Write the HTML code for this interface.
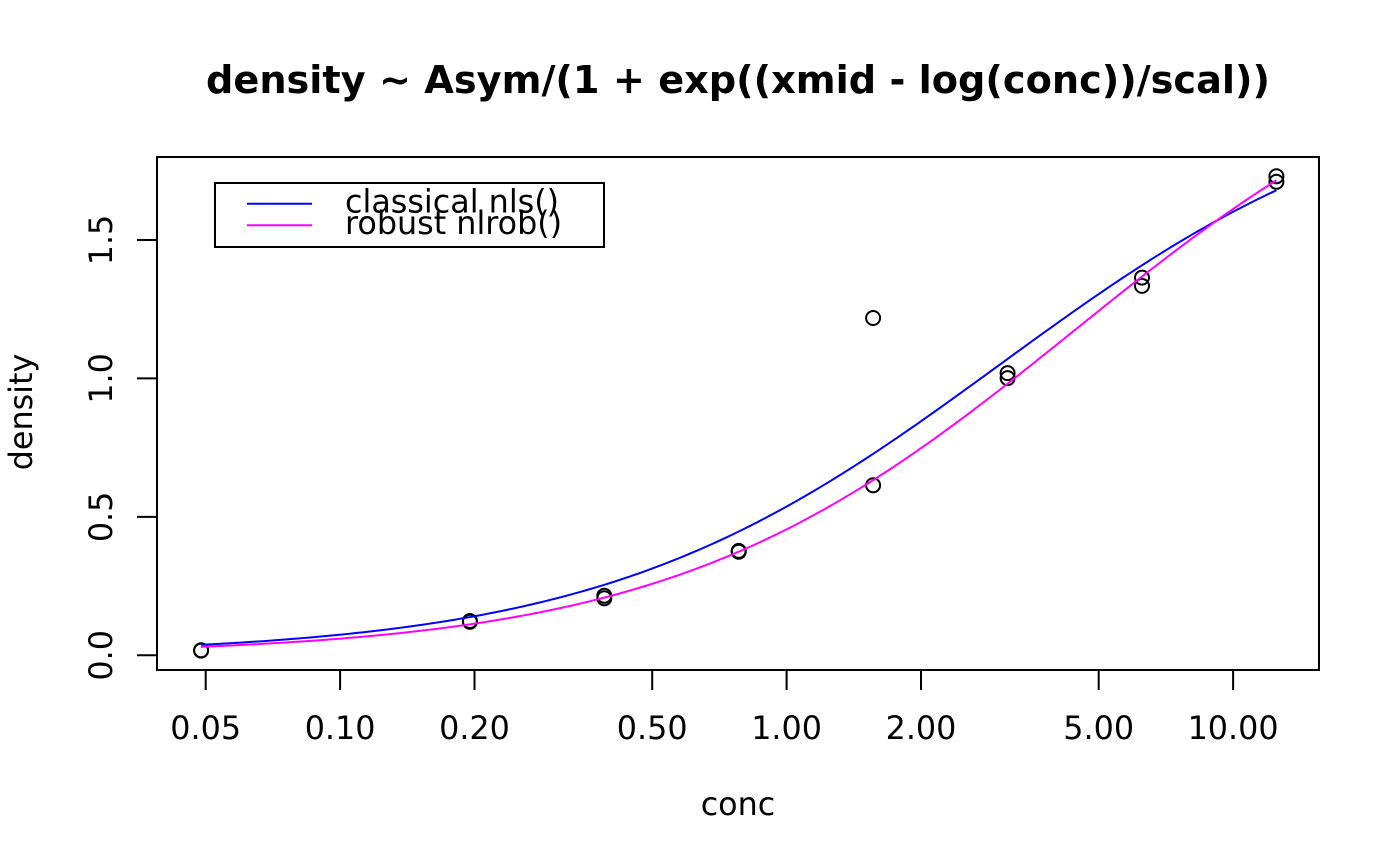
<!DOCTYPE html>
<html>
<head>
<meta charset="utf-8">
<style>
html,body{margin:0;padding:0;background:#fff;}
svg{display:block;}
text{font-family:"DejaVu Sans","Liberation Sans",sans-serif;fill:#000;}
</style>
</head>
<body>
<svg id="s" width="1400" height="866" viewBox="0 0 1400 866" xmlns="http://www.w3.org/2000/svg">
<rect width="1400" height="866" fill="#fff"/>
<text x="738" y="93" font-size="38.4" font-weight="bold" text-anchor="middle" textLength="1064" lengthAdjust="spacingAndGlyphs">density ~ Asym/(1 + exp((xmid - log(conc))/scal))</text>
<rect x="157" y="157" width="1162" height="513" fill="none" stroke="#000" stroke-width="2"/>
<g stroke="#000" stroke-width="2">
<line x1="205.7" y1="670" x2="205.7" y2="690"/>
<line x1="340.1" y1="670" x2="340.1" y2="690"/>
<line x1="474.5" y1="670" x2="474.5" y2="690"/>
<line x1="652.2" y1="670" x2="652.2" y2="690"/>
<line x1="786.6" y1="670" x2="786.6" y2="690"/>
<line x1="921.0" y1="670" x2="921.0" y2="690"/>
<line x1="1098.7" y1="670" x2="1098.7" y2="690"/>
<line x1="1233.1" y1="670" x2="1233.1" y2="690"/>
<line x1="137" y1="655.3" x2="157" y2="655.3"/>
<line x1="137" y1="516.9" x2="157" y2="516.9"/>
<line x1="137" y1="378.4" x2="157" y2="378.4"/>
<line x1="137" y1="240" x2="157" y2="240"/>
</g>
<g font-size="31.8" text-anchor="middle">
<text x="205.7" y="739">0.05</text>
<text x="340.1" y="739">0.10</text>
<text x="474.5" y="739">0.20</text>
<text x="652.2" y="739">0.50</text>
<text x="786.6" y="739">1.00</text>
<text x="921.0" y="739">2.00</text>
<text x="1098.7" y="739">5.00</text>
<text x="1233.1" y="739">10.00</text>
<text transform="translate(112,655.3) rotate(-90)">0.0</text>
<text transform="translate(112,516.9) rotate(-90)">0.5</text>
<text transform="translate(112,378.4) rotate(-90)">1.0</text>
<text transform="translate(112,240) rotate(-90)">1.5</text>
<text x="738" y="815">conc</text>
<text transform="translate(32,412) rotate(-90)">density</text>
</g>
<g id="pts" fill="none" stroke="#000" stroke-width="2"></g>
<path id="blue" fill="none" stroke="#0000FF" stroke-width="2"/>
<path id="mag" fill="none" stroke="#FF00FF" stroke-width="2"/>
<rect x="215" y="183" width="389" height="64" fill="#fff" stroke="#000" stroke-width="2"/>
<line x1="247" y1="203.7" x2="312" y2="203.7" stroke="#0000FF" stroke-width="2"/>
<line x1="247" y1="225.3" x2="312" y2="225.3" stroke="#FF00FF" stroke-width="2"/>
<text x="345" y="212.5" font-size="31.8">classical nls()</text>
<text x="345" y="234" font-size="31.8">robust nlrob()</text>
</svg>
<script>
(function(){
  var NS="http://www.w3.org/2000/svg";
  function px(c){return 786.6+446.5*Math.log10(c);}
  function py(d){return 655.3-276.9*d;}
  var data=[[0.04882812,0.017],[0.04882812,0.018],[0.1953125,0.121],[0.1953125,0.124],
  [0.390625,0.206],[0.390625,0.215],[0.78125,0.377],[0.78125,0.374],
  [1.5625,0.614],[1.5625,1.218],[3.125,1.019],[3.125,1.001],
  [6.25,1.334],[6.25,1.364],[12.5,1.730],[12.5,1.710]];
  var g=document.getElementById("pts");
  data.forEach(function(p){
    var c=document.createElementNS(NS,"circle");
    c.setAttribute("cx",px(p[0]).toFixed(1));
    c.setAttribute("cy",py(p[1]).toFixed(1));
    c.setAttribute("r","7");
    g.appendChild(c);
  });
  function curve(A,m,s){
    var d="",lo=Math.log(0.04882812),hi=Math.log(12.5),n=200;
    for(var i=0;i<=n;i++){
      var l=lo+(hi-lo)*i/n,c=Math.exp(l);
      var v=A/(1+Math.exp((m-l)/s));
      d+=(i?"L":"M")+px(c).toFixed(2)+" "+py(v).toFixed(2);
    }
    return d;
  }
  document.getElementById("blue").setAttribute("d",curve(2.1,1.10,1.03));
  document.getElementById("mag").setAttribute("d",curve(2.345,1.483,1.041));
})();
</script>
</body>
</html>
